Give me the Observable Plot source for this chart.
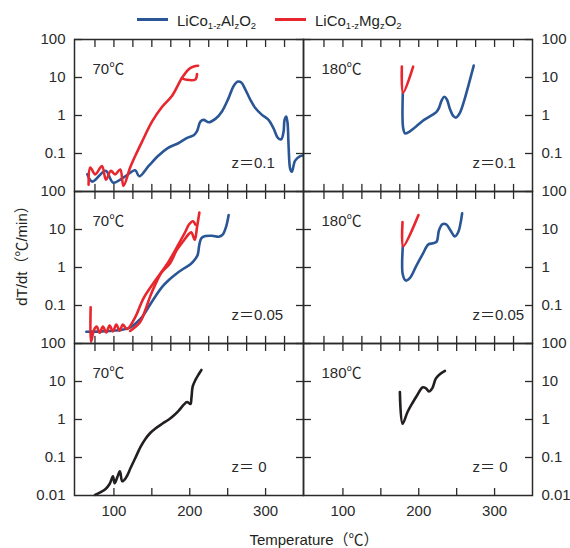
<!DOCTYPE html>
<html><head><meta charset="utf-8">
<script src="https://cdn.jsdelivr.net/npm/d3@7"></script>
<script src="https://cdn.jsdelivr.net/npm/@observablehq/plot@0.6"></script>
<style>
body{margin:0;background:#fff;font-family:"Liberation Sans",Arial,"Noto Sans CJK JP",sans-serif;color:#231f20}
#wrap{position:relative;width:570px;height:548px;overflow:hidden;background:#fff}
#legend{position:relative;height:30px}
.lg-line{position:absolute;height:3px;top:18px}
.lg-text{position:absolute;top:13px;font-size:15px;line-height:15px;white-space:nowrap}
.lg-text sub{font-size:9.5px;vertical-align:-3px;line-height:0}
#ytitle{position:absolute;left:21px;top:252px;transform:translate(-50%,-50%) rotate(-90deg);font-size:15px;white-space:nowrap;line-height:15px}
#xtitle{position:absolute;left:314px;top:532px;transform:translateX(-50%);font-size:15px;white-space:nowrap;line-height:15px}
</style></head><body>
<div id="wrap">
  <div id="legend"></div>
  <div id="chart"></div>
  <div id="ytitle">dT/dt（℃/min）</div>
  <div id="xtitle">Temperature（℃）</div>
</div>
<script>
// ---------- categories / labels ----------
const zRows = ["0.1", "0.05", "0"];
const holdTemps = ["70", "180"];
const holdLabels = ["70℃", "180℃"];
const zLabels = ["z＝0.1", "z＝0.05", "z＝ 0"];
const seriesNames = ["LiCo1-zAlzO2", "LiCo1-zMgzO2", "LiCoO2"];
const seriesColors = ["#2b5696", "#e8262d", "#231f20"];
const legendHtml = ["LiCo<sub>1-z</sub>Al<sub>z</sub>O<sub>2</sub>", "LiCo<sub>1-z</sub>Mg<sub>z</sub>O<sub>2</sub>"];
const yTickValues = [0.1, 1, 10, 100];
const yBottomTick = [0.01];
const xLabelTicks = [100, 200, 300];
const xMinorTicks = [75, 100, 125, 150, 175, 200, 225, 250, 275, 300, 325];
const xBottomTicks = [100, 150, 200, 250, 300];

// ---------- series values: [temperature ℃, dT/dt ℃/min] ----------
const al_z01_70 = [[64.9,0.0285],[71.5,0.0182],[89,0.0351],[99.1,0.0171],[114.9,0.0251],[128,0.0363],[133.3,0.0251],[146.1,0.0478],[159.2,0.0898],[170,0.135],[185.5,0.189],[196.5,0.258],[205.3,0.303],[209.6,0.388],[214,0.69],[218.4,0.766],[225,0.662],[233.8,0.815],[242.5,1.28],[251.3,2.91],[257.9,5.98],[263.6,7.82],[268,7.35],[273.2,4.88],[279.8,2.63],[286.4,1.57],[295.2,1.04],[303.9,0.766],[310.5,0.458],[316.2,0.258],[320.6,0.237],[323.7,0.372],[325,0.766],[327.2,0.94],[329,0.624],[330.3,0.164],[332.5,0.0388],[334.6,0.033],[339,0.0649],[345.6,0.0849],[349,0.089]];
const mg_z01_70 = [[66.6,0.0151],[68.8,0.0427],[75.4,0.0282],[84.2,0.0468],[89.5,0.0204],[96,0.035],[101.5,0.028],[108.3,0.038],[112.6,0.0141],[121.4,0.0427],[128.5,0.09],[136.8,0.2],[150.4,0.7],[163.6,1.7],[176.7,3.3],[190,10],[198.7,16.6],[205.3,19.5],[211,20.4]];
const mg_z01_70_hook = [[190,9.5],[196,8.7],[207.4,8.9],[209.6,12.3]];
const al_z01_180 = [[179,3.96],[179.5,0.458],[182.1,0.337],[187.3,0.372],[196.1,0.507],[207,0.766],[217.9,1.04],[223.1,1.23],[226.6,1.57],[230.1,2.47],[233.6,3.1],[237.1,2.63],[241,1.51],[245.4,0.979],[249.3,0.883],[254.1,1.16],[259.4,2.28],[265.9,6.62],[272.5,20.6]];
const mg_z01_180 = [[177.7,19.3],[179.3,3.96],[192.6,19.3]];
const al_z005_70 = [[63.6,0.0204],[84.6,0.0209],[111,0.0231],[121.9,0.0267],[130.7,0.0366],[137.3,0.0501],[146.1,0.094],[154.8,0.176],[163.6,0.31],[172.4,0.471],[181.1,0.658],[192.1,0.94],[200.9,1.21],[207.5,1.69],[210.5,2.17],[212.7,4.06],[215.4,5.93],[220.6,6.71],[229.4,6.85],[238.2,6.44],[243.4,7.31],[247.8,11.6],[251.3,24.1]];
const mg_z005_70a = [[69.3,0.09],[69.7,0.0111],[73.7,0.0226],[77.2,0.0279],[81.1,0.0191],[85.5,0.0279],[89.9,0.0195],[94.3,0.0297],[98.7,0.0208],[103.1,0.0316],[107.5,0.0217],[111.8,0.0316],[117.1,0.024],[128,0.049],[139,0.155],[154.3,0.447],[171.9,1.41],[186,4.4],[194,8.6],[199,13.5],[204,16.5],[207.5,13.5]];
const mg_z005_70b = [[121.4,0.0214],[134.6,0.037],[141.2,0.074],[147.8,0.174],[154.3,0.35],[163,0.75],[173.6,1.26],[183,2.9],[191.6,5],[198.5,7.5],[202,8.4],[206.6,5.4],[209.6,11.6],[212.7,27.9]];
const al_z005_180 = [[179,3.66],[179,0.644],[183,0.452],[188.2,0.522],[196.1,1.04],[204.8,2.17],[212.7,4.06],[218.8,4.33],[223.6,4.81],[226.6,9.4],[231,13.7],[236.2,13.7],[241.9,9.4],[247.6,6.58],[252,8.45],[255,14.3],[257.2,26.7]];
const mg_z005_180 = [[178.6,15.8],[179.5,3.66],[199.6,24.1]];
const co_z0_70 = [[75,0.0104],[82.5,0.0122],[89,0.0149],[94.3,0.0201],[98.7,0.0319],[100.9,0.021],[104.4,0.0301],[107.9,0.0432],[111,0.0237],[116.2,0.0301],[121.9,0.0527],[128.5,0.1],[135.1,0.19],[141.7,0.313],[148.2,0.449],[154.8,0.582],[163.6,0.771],[172.4,1],[178.9,1.27],[185.5,1.72],[192.1,2.46],[196.5,2.89],[200.9,2.56],[202.2,3.67],[203.9,7.41],[207.5,11],[211.8,15.5],[215.4,20.1]];
const co_z0_180 = [[175.1,5.27],[178.6,0.77],[185.2,1.58],[191.7,2.72],[198.3,4.49],[204.8,6.97],[209.2,6.7],[213.5,5.48],[217.9,6.7],[222.3,11.7],[226.6,14.9],[234.5,19]];

const curves = [
  {id:"a1", row:0, col:0, s:0, pts:al_z01_70},
  {id:"a2", row:0, col:1, s:0, pts:al_z01_180},
  {id:"a3", row:1, col:0, s:0, pts:al_z005_70},
  {id:"a4", row:1, col:1, s:0, pts:al_z005_180},
  {id:"m1", row:0, col:0, s:1, pts:mg_z01_70},
  {id:"m1h", row:0, col:0, s:1, pts:mg_z01_70_hook},
  {id:"m2", row:0, col:1, s:1, pts:mg_z01_180},
  {id:"m3a", row:1, col:0, s:1, pts:mg_z005_70a},
  {id:"m3b", row:1, col:0, s:1, pts:mg_z005_70b},
  {id:"m4", row:1, col:1, s:1, pts:mg_z005_180},
  {id:"c1", row:2, col:0, s:2, pts:co_z0_70},
  {id:"c2", row:2, col:1, s:2, pts:co_z0_180}
];
const table = curves.flatMap(c => c.pts.map(([T, v]) => ({
  id: c.id, fy: zRows[c.row], fx: holdTemps[c.col], series: seriesNames[c.s], T, v
})));

// per-panel annotation rows
const panels = zRows.flatMap((z, r) => holdTemps.map((t, c) => ({fy: z, fx: t, hold: holdLabels[c], zl: zLabels[r]})));
const innerBottomTicks = panels.filter(p => p.fy !== zRows[2]).flatMap(p => xMinorTicks.map(T => ({fx: p.fx, fy: p.fy, T})));
const bottom001 = holdTemps.map(t => ({fx: t, fy: zRows[2], v: yBottomTick[0]}));

// ---------- legend ----------
const legend = document.getElementById("legend");
const lgPos = [[137, 177], [275, 315]];
legendHtml.forEach((h, i) => {
  const ln = document.createElement("span");
  ln.className = "lg-line";
  ln.style.left = lgPos[i][0] + "px"; ln.style.width = "31px"; ln.style.background = seriesColors[i];
  legend.appendChild(ln);
  const tx = document.createElement("span");
  tx.className = "lg-text"; tx.style.left = lgPos[i][1] + "px"; tx.innerHTML = h;
  legend.appendChild(tx);
});

// ---------- chart ----------
const ink = "#2a2a2a";
const tickShape = {draw(ctx, l) { ctx.moveTo(0, 0); ctx.lineTo(0, -l); }};
const fmt = d3.format("~g");

const chart = Plot.plot({
  width: 570, height: 518,
  marginTop: 9, marginBottom: 53, marginLeft: 73, marginRight: 38,
  style: {fontFamily: '"Liberation Sans", Arial, "Noto Sans CJK JP", sans-serif', fontSize: "15px", color: ink, background: "white", overflow: "visible"},
  x: {domain: [48, 350]},
  y: {type: "log", domain: [0.01, 100]},
  fx: {domain: holdTemps, padding: 0, axis: null},
  fy: {domain: zRows, padding: 0, axis: null},
  color: {domain: seriesNames, range: seriesColors},
  marks: [
    Plot.line(table.filter(d => d.series !== seriesNames[1]), {fx: "fx", fy: "fy", x: "T", y: "v", z: "id", stroke: "series", strokeWidth: 2.6, curve: "catmull-rom"}),
    Plot.line(table.filter(d => d.series === seriesNames[1]), {fx: "fx", fy: "fy", x: "T", y: "v", z: "id", stroke: "series", strokeWidth: 2.6, curve: "catmull-rom"}),
    Plot.frame({stroke: ink, strokeWidth: 1.5}),
    // inward ticks, every panel
    Plot.axisX({anchor: "top", ticks: xMinorTicks, tickSize: -7, fill: "none", label: null, facetAnchor: null, stroke: ink, strokeWidth: 1.3}),
    Plot.vector(innerBottomTicks, {fx: "fx", fy: "fy", x: "T", frameAnchor: "bottom", length: 7, rotate: 0, anchor: "start", shape: tickShape, stroke: ink, strokeWidth: 1.3}),
    Plot.axisX({anchor: "bottom", ticks: xBottomTicks, tickSize: -7, fill: "none", label: null, facetAnchor: "bottom", stroke: ink, strokeWidth: 1.3}),
    Plot.axisY({anchor: "left", ticks: yTickValues, tickSize: -8, fill: "none", label: null, facetAnchor: null, stroke: ink, strokeWidth: 1.3}),
    Plot.axisY({anchor: "right", ticks: yTickValues, tickSize: -8, fill: "none", label: null, facetAnchor: null, stroke: ink, strokeWidth: 1.3}),
    // labels
    Plot.axisX({anchor: "bottom", ticks: xLabelTicks, tickSize: 0, tickPadding: 10, tickFormat: d => String(d), label: null, facetAnchor: "bottom", fill: ink}),
    Plot.axisY({anchor: "left", ticks: yTickValues, tickSize: 0, tickPadding: 9, tickFormat: fmt, label: null, facetAnchor: "left", fill: ink}),
    Plot.axisY({anchor: "right", ticks: yTickValues, tickSize: 0, tickPadding: 9, tickFormat: fmt, label: null, facetAnchor: "right", fill: ink}),
    Plot.text(bottom001.filter(d => d.fx === holdTemps[0]), {fx: "fx", fy: "fy", y: "v", frameAnchor: "left", dx: -9, textAnchor: "end", text: d => fmt(d.v), fill: ink}),
    Plot.text(bottom001.filter(d => d.fx === holdTemps[1]), {fx: "fx", fy: "fy", y: "v", frameAnchor: "right", dx: 9, textAnchor: "start", text: d => fmt(d.v), fill: ink}),
    Plot.text(panels, {fx: "fx", fy: "fy", text: "hold", frameAnchor: "top-left", dx: 18, dy: 24, textAnchor: "start", fill: ink}),
    Plot.text(panels.filter(d => d.fx === holdTemps[0]), {fx: "fx", fy: "fy", text: "zl", frameAnchor: "bottom-left", dx: 157, dy: -24, textAnchor: "start", fill: ink}),
    Plot.text(panels.filter(d => d.fx === holdTemps[1]), {fx: "fx", fy: "fy", text: "zl", frameAnchor: "bottom-left", dx: 169, dy: -24, textAnchor: "start", fill: ink})
  ]
});
document.getElementById("chart").appendChild(chart);
</script>
</body></html>
